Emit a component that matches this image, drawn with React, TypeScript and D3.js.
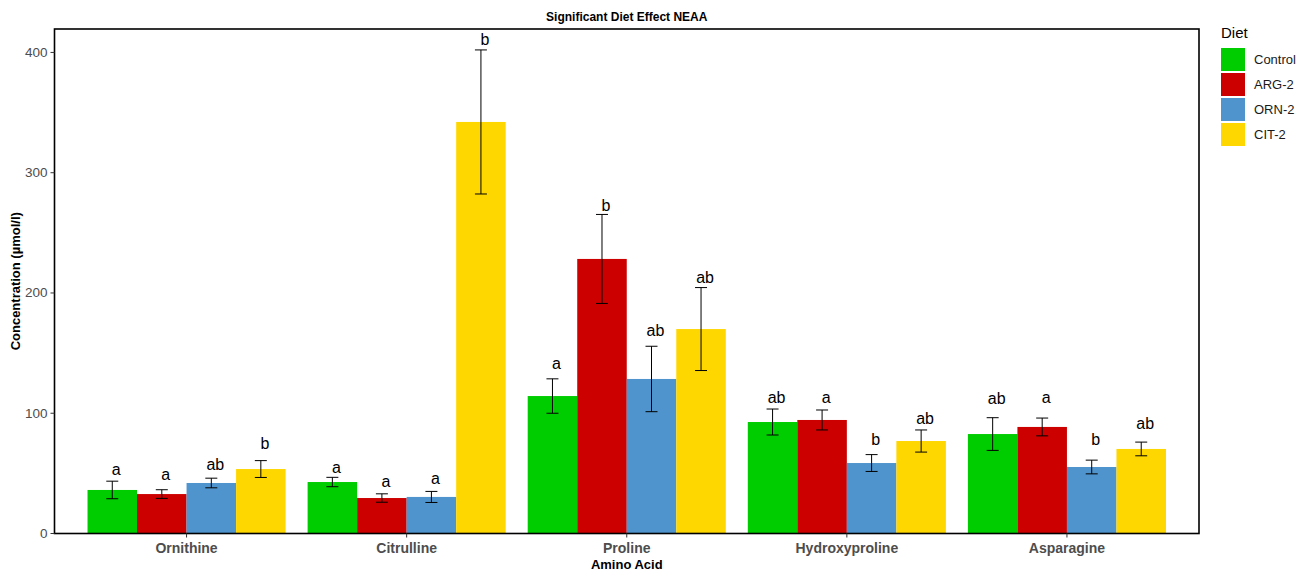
import React from "react";
import * as d3 from "d3";

const aminoAcids = ["Ornithine", "Citrulline", "Proline", "Hydroxyproline", "Asparagine"];
const diets = ["Control", "ARG-2", "ORN-2", "CIT-2"];
const dietColors = ["#00CD00", "#CD0000", "#4F94CD", "#FFD700"];

// means per diet, in aminoAcids order
const controlMean = [36.2, 42.8, 114.3, 92.7, 82.7];
const arg2Mean = [32.8, 29.5, 228.3, 94.4, 88.6];
const orn2Mean = [42.0, 30.4, 128.5, 58.6, 55.3];
const cit2Mean = [53.6, 342.2, 170.0, 76.9, 70.3];

// standard errors
const controlSE = [7.3, 3.9, 14.3, 10.8, 13.6];
const arg2SE = [3.6, 3.5, 37.0, 8.3, 7.4];
const orn2SE = [4.0, 4.6, 27.2, 7.0, 5.7];
const cit2SE = [7.0, 59.9, 34.5, 9.2, 5.7];

// significance letters
const controlLetters = ["a", "a", "a", "ab", "ab"];
const arg2Letters = ["a", "a", "b", "a", "a"];
const orn2Letters = ["ab", "a", "ab", "b", "b"];
const cit2Letters = ["b", "b", "ab", "ab", "ab"];

// letter heights (data units)
const controlLabelY = [48.6, 50.3, 136.8, 108.1, 107.7];
const arg2LabelY = [44.5, 38.7, 268.2, 108.5, 108.5];
const orn2LabelY = [52.8, 41.2, 164.2, 74.0, 73.6];
const cit2LabelY = [69.9, 406.2, 207.9, 91.0, 87.3];

const yTicks = [0, 100, 200, 300, 400];

const means = [controlMean, arg2Mean, orn2Mean, cit2Mean];
const ses = [controlSE, arg2SE, orn2SE, cit2SE];
const letters = [controlLetters, arg2Letters, orn2Letters, cit2Letters];
const labelYs = [controlLabelY, arg2LabelY, orn2LabelY, cit2LabelY];

export default function App() {
  const W = 1312;
  const H = 579;
  const left = 54.5;
  const right = 1199;
  const top = 29;
  const bottom = 533.5;

  const x = d3.scaleBand<string>().domain(aminoAcids).range([left, right]).paddingInner(0.1).paddingOuter(0.15);
  const xs = d3.scaleBand<string>().domain(diets).range([0, x.bandwidth()]).padding(0);
  const y = d3.scaleLinear().domain([0, 419.5]).range([bottom, top]);

  const font = "'Liberation Sans', Arial, sans-serif";

  const rows: any[] = [];
  aminoAcids.forEach((aa, i) => {
    diets.forEach((d, j) => {
      rows.push({
        aa,
        diet: d,
        color: dietColors[j],
        mean: means[j][i],
        se: ses[j][i],
        letter: letters[j][i],
        ly: labelYs[j][i],
      });
    });
  });

  return (
    <svg width={W} height={H} style={{ display: "block", position: "absolute", left: 0, top: 0 }} fontFamily={font}>
      <rect x={0} y={0} width={W} height={H} fill="#fff" />
      <text x={(left + right) / 2} y={21} textAnchor="middle" fontSize={12} fontWeight="bold" fill="#000">
        Significant Diet Effect NEAA
      </text>

      {rows.map((r, k) => {
        const bx = (x(r.aa) as number) + (xs(r.diet) as number);
        const bw = xs.bandwidth();
        return (
          <rect key={"b" + k} x={bx} y={y(r.mean)} width={bw} height={y(0) - y(r.mean)} fill={r.color} />
        );
      })}

      {rows.map((r, k) => {
        const cx = (x(r.aa) as number) + (xs(r.diet) as number) + xs.bandwidth() / 2;
        const y1 = y(r.mean + r.se);
        const y2 = y(r.mean - r.se);
        return (
          <g key={"e" + k} stroke="#000" strokeWidth={1}>
            <line x1={cx} x2={cx} y1={y1} y2={y2} />
            <line x1={cx - 6} x2={cx + 6} y1={y1} y2={y1} />
            <line x1={cx - 6} x2={cx + 6} y1={y2} y2={y2} />
          </g>
        );
      })}

      {rows.map((r, k) => {
        const cx = (x(r.aa) as number) + (xs(r.diet) as number) + xs.bandwidth() / 2 + 4;
        return (
          <text key={"t" + k} x={cx} y={y(r.ly)} textAnchor="middle" fontSize={16} fill="#000">
            {r.letter}
          </text>
        );
      })}

      <rect x={left} y={top} width={right - left} height={bottom - top} fill="none" stroke="#000" strokeWidth={1.6} />

      {yTicks.map((t) => (
        <g key={"y" + t}>
          <line x1={left - 4} x2={left} y1={y(t)} y2={y(t)} stroke="#333" strokeWidth={1} />
          <text x={left - 7} y={y(t) + 4.5} textAnchor="end" fontSize={13.5} fill="#4D4D4D">
            {t}
          </text>
        </g>
      ))}

      {aminoAcids.map((aa) => {
        const cx = (x(aa) as number) + x.bandwidth() / 2;
        return (
          <g key={"x" + aa}>
            <line x1={cx} x2={cx} y1={bottom} y2={bottom + 4} stroke="#333" strokeWidth={1} />
            <text x={cx} y={552.5} textAnchor="middle" fontSize={14} fontWeight="bold" fill="#4D4D4D">
              {aa}
            </text>
          </g>
        );
      })}

      <text x={(left + right) / 2} y={569} textAnchor="middle" fontSize={13} fontWeight="bold" fill="#000">
        Amino Acid
      </text>
      <text
        transform={`translate(20, ${(top + bottom) / 2}) rotate(-90)`}
        textAnchor="middle"
        fontSize={13}
        fontWeight="bold"
        fill="#000"
      >
        Concentration (µmol/l)
      </text>

      <text x={1221} y={38} fontSize={15} fill="#000">
        Diet
      </text>
      {diets.map((d, j) => (
        <g key={"l" + d}>
          <rect x={1221} y={48 + j * 25} width={24} height={23} fill={dietColors[j]} />
          <text x={1254} y={48 + j * 25 + 16} fontSize={13} fill="#1a1a1a">
            {d}
          </text>
        </g>
      ))}
    </svg>
  );
}
